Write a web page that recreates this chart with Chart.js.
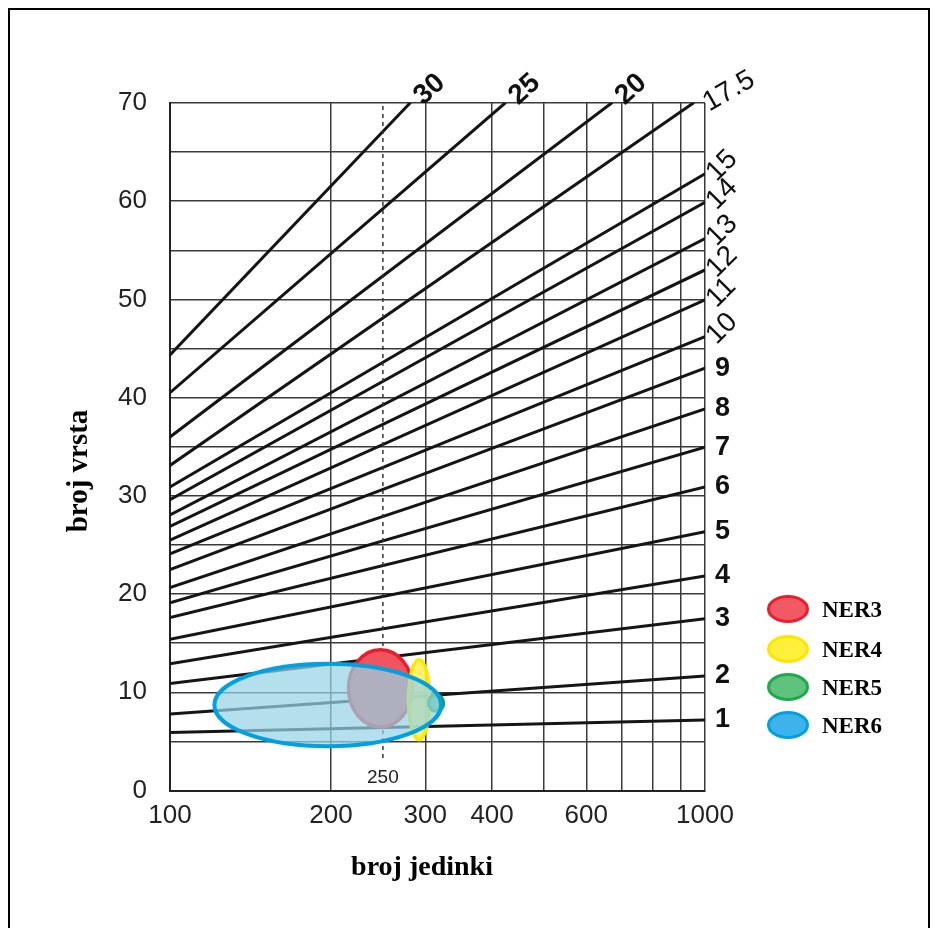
<!DOCTYPE html>
<html><head><meta charset="utf-8">
<script src="https://cdn.jsdelivr.net/npm/chart.js@4"></script>
<style>
html,body{margin:0;padding:0;background:#fff;}
#wrap{position:relative;width:936px;height:928px;overflow:hidden;background:#fff;}
#frame{position:absolute;left:8px;top:8px;width:918px;height:940px;border:2px solid #000;pointer-events:none;}
canvas{position:absolute;left:0;top:0;}
</style></head><body>
<div id="wrap"><canvas id="c" width="936" height="928"></canvas><div id="frame"></div></div>
<script>
// ---- data ----
const xTickValues = [100, 200, 300, 400, 500, 600, 700, 800, 900, 1000];
const xTickLabels = [100, 200, 300, 400, 600, 1000];
const yTickLabels = [0, 10, 20, 30, 40, 50, 60, 70];
const markerValue = 250;
const markerYRange = [3.3, 70];

const isoLabels = ['1','2','3','4','5','6','7','8','9','10','11','12','13','14','15','17.5','20','25','30'];
const isoStartN = [100,100,100,100,100,100,100,100,100,100,100,100,100,100,100,100,100,100,100];
const isoStartS = [5.9, 7.8, 10.9, 12.9, 15.4, 17.6, 19.1, 20.65, 22.5, 24.1, 25.5, 26.9, 28.05, 29.6, 30.9, 33.1, 36.0, 40.5, 44.35];
const isoEndN   = [1000,1000,1000,1000,1000,1000,1000,1000,1000,1000,1000,1000,1000,1000,1000, 951, 669, 423, 281];
const isoEndS   = [7.18, 11.66, 17.5, 21.85, 26.35, 30.9, 34.95, 38.85, 43.0, 46.2, 49.95, 53.0, 56.2, 59.9, 62.8, 70, 70, 70, 70];

const nerLabels = ['NER3', 'NER4', 'NER5', 'NER6'];
const nerNMin = [214, 277, 302, 120];
const nerNMax = [286, 308, 327, 324];
const nerSMin = [6.3, 5.0, 7.9, 4.3];
const nerSMax = [14.5, 13.5, 9.9, 13.1];

const xTitle = 'broj jedinki';
const yTitle = 'broj vrsta';

// ---- styles ----
const nerStyle = [
  {fill: 'rgba(240,85,95,1)',    stroke: 'rgb(232,30,45)',  lfill: 'rgb(240,90,100)', lstroke: 'rgb(235,30,45)'},
  {fill: 'rgba(255,240,80,0.85)', stroke: 'rgb(255,232,0)',  lfill: 'rgb(255,240,60)', lstroke: 'rgb(255,230,0)'},
  {fill: 'rgba(85,192,125,1)',   stroke: 'rgb(25,165,70)',  lfill: 'rgb(95,195,125)', lstroke: 'rgb(30,170,75)'},
  {fill: 'rgba(150,212,228,0.72)', stroke: 'rgb(0,160,225)', lfill: 'rgb(60,180,235)', lstroke: 'rgb(0,160,225)'}
];

const datasets = [];
datasets.push({
  data: [{x: markerValue, y: markerYRange[0]}, {x: markerValue, y: markerYRange[1]}],
  showLine: true, borderColor: '#333', borderWidth: 1.5, borderDash: [4, 4],
  pointRadius: 0
});
isoLabels.forEach((lab, i) => {
  datasets.push({
    label: lab,
    data: [{x: isoStartN[i], y: isoStartS[i]}, {x: isoEndN[i], y: isoEndS[i]}],
    showLine: true, borderColor: '#151515', borderWidth: 3, pointRadius: 0,
    borderCapStyle: 'round'
  });
});

const SANS = '"Liberation Sans", Arial, sans-serif';
function labelStyle(i) {
  const lab = isoLabels[i];
  if (i <= 8) return {font: 'bold 27px ' + SANS, rot: 0, dx: 10, dy: 0};
  if (i <= 14) return {font: '28px ' + SANS, rot: -45, dx: 6, dy: 3};
  if (lab === '17.5') return {font: '28px ' + SANS, rot: -30, dx: 12, dy: 2};
  return {font: 'bold 28px ' + SANS, rot: -42, dx: 8, dy: -3};
}

const overlay = {
  id: 'overlay',
  afterDatasetsDraw(chart) {
    const ctx = chart.ctx, xs = chart.scales.x, ys = chart.scales.y;
    ctx.save();
    for (let i = 0; i < nerLabels.length; i++) {
      const x1 = xs.getPixelForValue(nerNMin[i]), x2 = xs.getPixelForValue(nerNMax[i]);
      const y1 = ys.getPixelForValue(nerSMax[i]), y2 = ys.getPixelForValue(nerSMin[i]);
      const lw = i === 3 ? 4 : 3.5;
      const cx = (x1 + x2) / 2, cy = (y1 + y2) / 2;
      const rx = (x2 - x1) / 2 - lw / 2, ry = (y2 - y1) / 2 - lw / 2;
      ctx.beginPath();
      ctx.ellipse(cx, cy, rx, ry, 0, 0, Math.PI * 2);
      ctx.fillStyle = nerStyle[i].fill;
      ctx.fill();
      ctx.lineWidth = lw;
      ctx.strokeStyle = nerStyle[i].stroke;
      ctx.stroke();
    }
    ctx.restore();
  },
  afterDraw(chart) {
    const ctx = chart.ctx, xs = chart.scales.x, ys = chart.scales.y;
    ctx.save();
    ctx.fillStyle = '#111';
    for (let i = 0; i < isoLabels.length; i++) {
      const st = labelStyle(i);
      const px = xs.getPixelForValue(isoEndN[i]);
      const py = ys.getPixelForValue(isoEndS[i]);
      ctx.save();
      ctx.translate(px + st.dx, py + st.dy);
      ctx.rotate(st.rot * Math.PI / 180);
      ctx.font = st.font;
      ctx.textAlign = 'left';
      ctx.textBaseline = 'middle';
      ctx.fillText(isoLabels[i], 0, 0);
      ctx.restore();
    }
    ctx.font = '19px ' + SANS;
    ctx.fillStyle = '#222';
    ctx.textAlign = 'center';
    ctx.textBaseline = 'middle';
    ctx.fillText(String(markerValue), xs.getPixelForValue(markerValue), 778);
    ctx.fillStyle = '#000';
    ctx.font = 'bold 28px "Liberation Serif", "Times New Roman", serif';
    ctx.fillText(xTitle, 422, 868);
    ctx.save();
    ctx.translate(80, 471);
    ctx.rotate(-Math.PI / 2);
    ctx.font = 'bold 29px "Liberation Serif", "Times New Roman", serif';
    ctx.fillText(yTitle, 0, 0);
    ctx.restore();
    const ly = [609, 649, 687, 725];
    for (let i = 0; i < nerLabels.length; i++) {
      ctx.beginPath();
      ctx.ellipse(788, ly[i], 19.5, 12.5, 0, 0, Math.PI * 2);
      ctx.fillStyle = nerStyle[i].lfill;
      ctx.fill();
      ctx.lineWidth = 3;
      ctx.strokeStyle = nerStyle[i].lstroke;
      ctx.stroke();
      ctx.fillStyle = '#000';
      ctx.font = 'bold 23px "Liberation Serif", "Times New Roman", serif';
      ctx.textAlign = 'left';
      ctx.textBaseline = 'middle';
      ctx.fillText(nerLabels[i], 822, ly[i] + 2);
    }
    ctx.restore();
  }
};

new Chart(document.getElementById('c'), {
  type: 'scatter',
  data: {datasets},
  options: {
    responsive: false,
    animation: false,
    devicePixelRatio: 1,
    layout: {padding: {left: 0, right: 231, top: 103, bottom: 0}},
    plugins: {legend: {display: false}, tooltip: {enabled: false}},
    elements: {line: {tension: 0}},
    scales: {
      x: {
        type: 'logarithmic', min: 100, max: 1000,
        afterBuildTicks: (s) => { s.ticks = xTickValues.map(v => ({value: v})); },
        afterFit: (s) => { s.height = 137.5; },
        ticks: {
          autoSkip: false, maxRotation: 0, padding: 10, color: '#222',
          font: {family: SANS, size: 26},
          callback: (v) => xTickLabels.includes(v) ? String(v) : ''
        },
        grid: {color: '#3a3a3a', lineWidth: 1.5, drawTicks: false},
        border: {display: true, color: '#222', width: 2}
      },
      y: {
        type: 'linear', min: 0, max: 70,
        afterFit: (s) => { s.width = 170; },
        ticks: {
          stepSize: 5, padding: 23, color: '#222',
          font: {family: SANS, size: 26},
          callback: (v) => yTickLabels.includes(v) ? String(v) : ''
        },
        grid: {color: '#3a3a3a', lineWidth: 1.5, drawTicks: false},
        border: {display: true, color: '#222', width: 2}
      }
    }
  },
  plugins: [overlay]
});
</script>
</body></html>
